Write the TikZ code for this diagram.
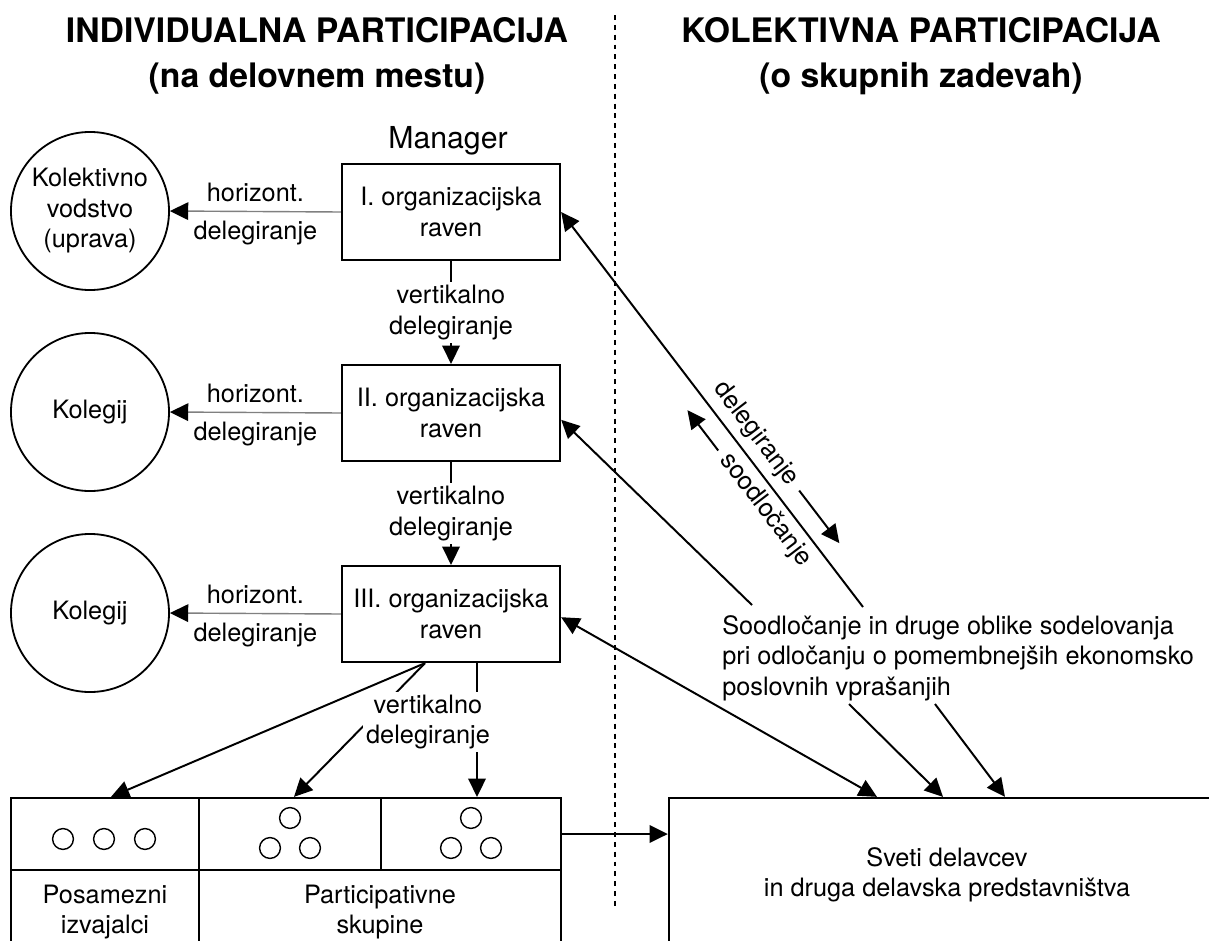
\documentclass[tikz,border=0pt]{standalone}
\usepackage{fontspec}
\setmainfont{TeX Gyre Heros}
\usetikzlibrary{arrows.meta,calc}

\begin{document}
\begin{tikzpicture}[x=0.025cm, y=-0.025cm,
    font=\fontsize{18}{21.7}\selectfont,
    raven/.style ={rectangle, draw, line width=1.6pt, minimum width=5.45cm, minimum height=2.4cm, align=center},
    organ/.style ={circle, draw, line width=1.3pt, minimum size=3.95cm, align=center, inner sep=0pt},
    celica/.style ={rectangle, draw, line width=1.6pt, align=center, inner sep=0pt},
    puscica/.style ={-{Triangle[length=13pt,width=12.5pt]}, line width=1.4pt},
    obojna/.style ={{Triangle[length=13pt,width=12.5pt]}-{Triangle[length=13pt,width=12.5pt]}, line width=1.4pt},
    horiz/.style ={-{Triangle[length=13pt,width=12.5pt,color=black]}, draw=black!50, line width=1pt},
    oznaka/.style ={fill=white, inner sep=2pt, align=center},
    naslov/.style ={font=\fontsize{24}{32}\selectfont\bfseries, align=center}]
   \useasboundingbox (0,0) rectangle (1209,940);
   \clip (0,0) rectangle (1209,940);
   % naslova in meja
   \node[naslov] (levo) at (317,56) {INDIVIDUALNA PARTICIPACIJA\\(na delovnem mestu)};
   \node[naslov] (desno) at (921,56) {KOLEKTIVNA PARTICIPACIJA\\(o skupnih zadevah)};
   \coordinate (meja1) at (615,15);
   \coordinate (meja2) at (615,908);
   \draw[line width=1.2pt, dash pattern=on 3.5pt off 3.5pt] (meja1) -- (meja2);
   % ravni
   \node[raven] (r1) at (451,212) {I. organizacijska\\raven};
   \node[raven] (r2) at (451,413) {II. organizacijska\\raven};
   \node[raven] (r3) at (451,614) {III. organizacijska\\raven};
   \node[font=\fontsize{21.5}{26}\selectfont] (man) at (448,141) {Manager};
   \node[organ] (o1) at (90,211) {Kolektivno\\vodstvo\\(uprava)};
   \node[organ] (o2) at (90,412) {Kolegij};
   \node[organ] (o3) at (90,613) {Kolegij};
   \foreach \i in {1,2,3}
      \draw[horiz] (r\i.west) -- (o\i.east) node[midway, above=4pt, inner sep=2pt] {horizont.} node[midway, below=4pt, inner sep=2pt] {delegiranje};
   \draw[puscica] (r1) -- (r2) node[midway, oznaka] {vertikalno\\delegiranje};
   \draw[puscica] (r2) -- (r3) node[midway, oznaka] {vertikalno\\delegiranje};
   % izvajalci in skupine
   \node[celica, minimum width=4.7cm, minimum height=1.8cm] (pos) at (105,834) {};
   \node[celica, minimum width=4.55cm, minimum height=1.8cm] (sk1) at (290,834) {};
   \node[celica, minimum width=4.5cm, minimum height=1.8cm] (sk2) at (471,834) {};
   \node[celica, minimum width=4.7cm, minimum height=2.1cm] (posam) at (105,912) {Posamezni\\izvajalci};
   \node[celica, minimum width=9.05cm, minimum height=2.1cm] (part) at (380,912) {Participativne\\skupine};
   \foreach \x in {-42,-1,40}
      \draw[line width=1pt] ($(pos)+(\x,5)$) circle[radius=2.6mm];
   \foreach \s in {sk1,sk2}
      \foreach \dx/\dy in {0/-16,-20/14,20/14}
         \draw[line width=1pt] ($(\s)+(\dx,\dy)$) circle[radius=2.6mm];
   \coordinate (r3a) at ($(r3.south)+(-26,0)$);
   \draw[puscica] (r3a) -- ($(pos.north)+(6,0)$);
   \draw[puscica] (r3a) -- ($(sk1.north)+(4,0)$);
   \draw[puscica] ($(r3.south)+(26,0)$) -- ($(sk2.north)+(6,0)$);
   \node[oznaka] (vd3) at (428,722) {vertikalno\\delegiranje};
   % kolektivna stran
   \node[celica, minimum width=13.9cm, minimum height=3.85cm] (svet) at (947,875) {Sveti delavcev\\in druga delavska predstavništva};
   \draw[puscica] (sk2.east) -- (sk2.east -| svet.west);
   \node[align=left, anchor=west, inner sep=0pt] (sood) at (722,658) {Soodločanje in druge oblike sodelovanja\\pri odločanju o pomembnejših ekonomsko\\poslovnih vprašanjih};
   \coordinate (s1) at (863,607);
   \coordinate (s2) at (752,605);
   \coordinate (s3) at (849,704);
   \coordinate (s4) at (935,704);
   \draw[puscica] (s1) -- (r1.east) node[pos=0.407, sloped, above, inner sep=5pt] {delegiranje} node[pos=0.274, sloped, below, inner sep=4pt] {soodločanje};
   \draw[puscica] ($(r1.east)!0.736!(s1)!0.5cm!90:(s1)$) -- ($(r1.east)!0.869!(s1)!0.5cm!90:(s1)$);
   \draw[puscica] ($(r1.east)!0.573!(s1)!0.5cm!-90:(s1)$) -- ($(r1.east)!0.471!(s1)!0.5cm!-90:(s1)$);
   \draw[puscica] (s2) -- ([yshift=-0.17cm]r2.east);
   \draw[obojna] ([yshift=-0.08cm]r3.east) -- ($(svet.north)+(-70,0)$);
   \draw[puscica] (s3) -- ($(svet.north)+(-4,0)$);
   \draw[puscica] (s4) -- ($(svet.north)+(58,0)$);
\end{tikzpicture}
\end{document}
